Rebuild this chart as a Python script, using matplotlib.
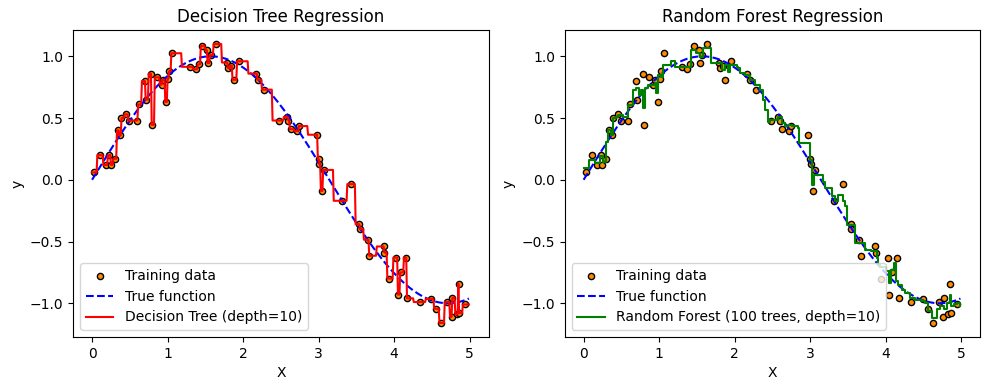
import numpy as np
import matplotlib
matplotlib.use('Agg')
import matplotlib.pyplot as plt

# training samples
x_train = [0.027, 0.11, 0.18, 0.23, 0.25, 0.30, 0.34, 0.375, 0.385, 0.455,
           0.49, 0.59, 0.62, 0.70, 0.71, 0.78, 0.795, 0.86, 0.92, 0.94,
           0.985, 1.01, 1.02, 1.065, 1.30, 1.37, 1.41, 1.46, 1.525, 1.535,
           1.57, 1.635, 1.79, 1.80, 1.84, 1.875, 1.95, 2.17, 2.20, 2.28,
           2.48, 2.58, 2.60, 2.63, 2.72, 2.74, 2.975, 3.00, 3.01, 3.04,
           3.07, 3.315, 3.43, 3.535, 3.545, 3.65, 3.67, 3.86, 3.87, 3.935,
           4.03, 4.05, 4.09, 4.155, 4.17, 4.34, 4.49, 4.56, 4.62, 4.70,
           4.76, 4.77, 4.83, 4.855, 4.86, 4.94]
y_train = [0.06, 0.20, 0.12, 0.20, 0.12, 0.17, 0.40, 0.36, 0.50, 0.53,
           0.48, 0.48, 0.61, 0.80, 0.65, 0.86, 0.445, 0.83, 0.77, 0.81,
           0.63, 0.82, 0.88, 1.025, 0.915, 0.895, 0.935, 1.085, 1.05, 0.945,
           1.01, 1.10, 0.95, 0.905, 0.925, 0.81, 0.96, 0.86, 0.81, 0.73,
           0.48, 0.51, 0.48, 0.41, 0.395, 0.435, 0.365, 0.17, 0.13, -0.09,
           0.08, -0.17, -0.035, -0.36, -0.40, -0.485, -0.615, -0.54, -0.59, -0.80,
           -0.63, -0.93, -0.75, -0.63, -0.96, -0.99, -0.965, -1.045, -1.16, -0.99,
           -1.11, -0.955, -1.09, -0.84, -1.08, -1.01]

# random forest prediction (step levels)
rf_x = [0.0, 0.066, 0.146, 0.212, 0.257, 0.30, 0.323, 0.367, 0.39, 0.433,
        0.455, 0.52, 0.588, 0.654, 0.70, 0.74, 0.765, 0.787, 0.818, 0.853,
        0.94, 0.96, 0.985, 1.02, 1.05, 1.16, 1.21, 1.428, 1.494, 1.538,
        1.583, 1.693, 1.826, 1.87, 1.914, 1.936, 2.025, 2.047, 2.07, 2.135,
        2.2, 2.268, 2.334, 2.378, 2.4, 2.436, 2.467, 2.577, 2.621, 2.665,
        2.71, 2.76, 2.843, 2.856, 2.997, 3.019, 3.028, 3.055, 3.174, 3.196,
        3.285, 3.33, 3.365, 3.44, 3.462, 3.484, 3.594, 3.727, 3.80, 3.881,
        3.903, 3.925, 4.0, 4.05, 4.067, 4.116, 4.138, 4.169, 4.213, 4.257,
        4.324, 4.39, 4.478, 4.522, 4.566, 4.61, 4.677, 4.721, 4.766, 4.81,
        4.845, 4.863, 4.898, 4.943, 4.99]
rf_y = [0.095, 0.162, 0.135, 0.189, 0.148, 0.31, 0.405, 0.364, 0.499, 0.512,
        0.526, 0.51, 0.607, 0.728, 0.742, 0.688, 0.728, 0.58, 0.742, 0.769,
        0.782, 0.701, 0.849, 0.836, 0.93, 0.96, 0.917, 1.05, 1.025, 0.998,
        1.065, 0.95, 0.89, 0.93, 0.876, 0.93, 0.917, 0.903, 0.863, 0.849,
        0.809, 0.769, 0.728, 0.647, 0.566, 0.472, 0.485, 0.512, 0.459, 0.432,
        0.445, 0.432, 0.418, 0.297, 0.162, 0.108, -0.04, 0.04, -0.014, -0.068,
        -0.135, -0.175, -0.12, -0.175, -0.216, -0.364, -0.512, -0.566, -0.58, -0.634,
        -0.688, -0.71, -0.74, -0.836, -0.728, -0.674, -0.82, -0.85, -0.89, -0.917,
        -0.957, -0.97, -0.984, -0.998, -1.065, -1.12, -1.05, -1.025, -1.05, -0.998,
        -0.93, -1.025, -1.01, -0.998, -1.02]


def tree_predict(xq, xs, ys):
    """ fully grown tree: every sample its own leaf, split at midpoints """
    order = np.argsort(xs)
    xs = np.asarray(xs)[order]
    ys = np.asarray(ys)[order]
    cuts = (xs[1:] + xs[:-1]) / 2.0
    return ys[np.searchsorted(cuts, xq)]


X_test = np.arange(0.0, 5.0, 0.01)
y_tree = tree_predict(X_test, x_train, y_train)

fig = plt.figure(figsize=(9.89, 3.9), dpi=100)
ax1 = fig.add_axes([0.074, 0.136, 0.42, 0.787])
ax2 = fig.add_axes([0.571, 0.136, 0.42, 0.787])

ax1.scatter(x_train, y_train, s=20, edgecolor='black', c='darkorange', label='Training data')
ax1.plot(X_test, np.sin(X_test), color='blue', linestyle='--', label='True function')
ax1.plot(X_test, y_tree, color='red', label='Decision Tree (depth=10)')
ax1.set_title('Decision Tree Regression')
ax1.set_xlabel('X')
ax1.set_ylabel('y')
ax1.legend(loc='lower left')

ax2.scatter(x_train, y_train, s=20, edgecolor='black', c='darkorange', label='Training data')
ax2.plot(X_test, np.sin(X_test), color='blue', linestyle='--', label='True function')
ax2.plot(rf_x, rf_y, color='green', drawstyle='steps-post',
         label='Random Forest (100 trees, depth=10)')
ax2.set_title('Random Forest Regression')
ax2.set_xlabel('X')
ax2.set_ylabel('y')
ax2.legend(loc='lower left')

for ax in (ax1, ax2):
    ax.set_xlim(-0.25, 5.25)
    ax.set_ylim(-1.273, 1.213)

fig.savefig('out.png', dpi=100)
